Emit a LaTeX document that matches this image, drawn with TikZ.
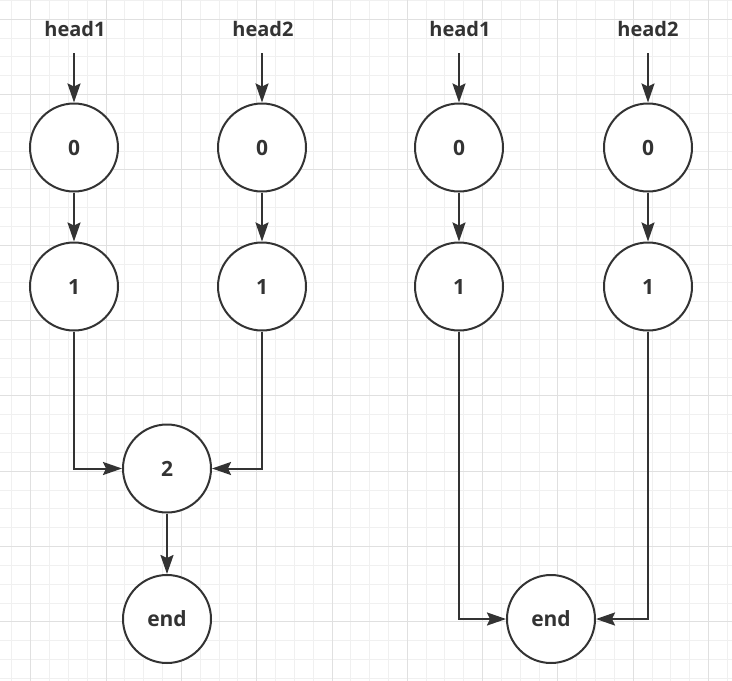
\documentclass[tikz,border=0pt]{standalone}
\usepackage{fontspec}
\setmainfont{Open Sans}
\usetikzlibrary{arrows.meta}
\definecolor{ink}{HTML}{333333}
\definecolor{gridminor}{HTML}{F0F0F0}
\definecolor{gridmajor}{HTML}{E0E0E0}
\begin{document}
\begin{tikzpicture}[x=1pt,y=-1pt,
  circ/.style={circle, draw=ink, line width=2pt, minimum size=88pt, inner sep=0pt,
    font=\fontsize{21}{25}\selectfont\bfseries, text=ink, fill=white},
  lbl/.style={font=\fontsize{20}{24}\selectfont\bfseries, text=ink, inner sep=0pt, anchor=base},
  arr/.style={draw=ink, line width=2pt, -{Stealth[length=19pt,width=13pt,inset=3pt]}},
  minorline/.style={draw=gridminor, line width=1pt},
  majorline/.style={draw=gridmajor, line width=1pt}]
\useasboundingbox (0,0) rectangle (732,681);
\fill[white] (0,0) rectangle (732,681);
% grid
\foreach \k in {0,...,38} \draw[minorline] ({11.9+18.83*\k},0) -- ({11.9+18.83*\k},681);
\foreach \k in {0,...,36} \draw[minorline] (0,{0.5+18.83*\k}) -- (732,{0.5+18.83*\k});
\foreach \k in {0,...,9} \draw[majorline] ({30.73+75.32*\k},0) -- ({30.73+75.32*\k},681);
\foreach \k in {0,...,8} \draw[majorline] (0,{19.33+75.32*\k}) -- (732,{19.33+75.32*\k});
% labels
\node[lbl] (h1) at (75,36) {head1};
\node[lbl] (h2) at (263,36) {head2};
\node[lbl] (h3) at (460,36) {head1};
\node[lbl] (h4) at (648,36) {head2};
\coordinate (s1) at (74,53);
\coordinate (s2) at (262,53);
\coordinate (s3) at (459,53);
\coordinate (s4) at (648,53);
% left diagram
\node[circ] (a0) at (74,147.5) {0};
\node[circ] (a1) at (74,286.5) {1};
\node[circ] (b0) at (262,147.5) {0};
\node[circ] (b1) at (262,286.5) {1};
\node[circ] (c2) at (167,468.5) {2};
\node[circ] (cend) at (167,619) {end};
% right diagram
\node[circ] (d0) at (459,147.5) {0};
\node[circ] (d1) at (459,286.5) {1};
\node[circ] (e0) at (648,147.5) {0};
\node[circ] (e1) at (648,286.5) {1};
\node[circ] (fend) at (551,619) {end};
% connectors
\draw[arr] (s1) -- (a0);
\draw[arr] (s2) -- (b0);
\draw[arr] (s3) -- (d0);
\draw[arr] (s4) -- (e0);
\draw[arr] (a0) -- (a1);
\draw[arr] (b0) -- (b1);
\draw[arr] (d0) -- (d1);
\draw[arr] (e0) -- (e1);
\draw[arr] (a1) |- (c2);
\draw[arr] (b1) |- (c2);
\draw[arr] (c2) -- (cend);
\draw[arr] (d1) |- (fend);
\draw[arr] (e1) |- (fend);
\end{tikzpicture}
\end{document}
